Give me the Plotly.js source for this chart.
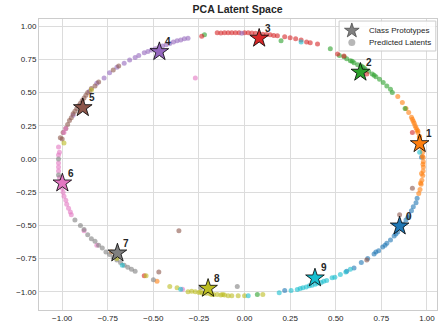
<!DOCTYPE html>
<html>
<head>
<meta charset="utf-8">
<script src="https://cdn.plot.ly/plotly-3.0.1.min.js"></script>
<style>html,body{margin:0;padding:0;background:#fff;}#chart{width:440px;height:326px;}</style>
</head>
<body>
<div id="chart"></div>
<script>
const classLabels = ['0','1','2','3','4','5','6','7','8','9'];
const classColors = ['#1f77b4','#ff7f0e','#2ca02c','#d62728','#9467bd','#8c564b','#e377c2','#7f7f7f','#bcbd22','#17becf'];
const legendNames = ['Class Prototypes', 'Predicted Latents'];

const protoX = [0.85, 0.96, 0.635, 0.08, -0.467, -0.887, -0.999, -0.697, -0.20, 0.386];
const protoY = [-0.505, 0.115, 0.653, 0.909, 0.808, 0.386, -0.181, -0.708, -0.974, -0.896];

// predicted latents per class: [x, y]
const latent0 = [[0.97,0.013],[0.946,-0.296],[0.94,-0.33],[0.925,-0.36],[0.915,-0.39],[0.90,-0.43],[0.885,-0.46],[0.87,-0.49],[0.855,-0.52],[0.84,-0.55],[0.82,-0.58],[0.80,-0.61],[0.78,-0.635],[0.757,-0.663],[0.735,-0.69],[0.71,-0.715],[0.675,-0.75],[0.64,-0.78],[0.60,-0.82],[0.56,-0.845],[0.22,-0.99],[0.895,-0.44],[0.83,-0.565],[0.865,-0.50],[0.77,-0.65],[0.72,-0.70]];
const latent1 = [[0.84,0.47],[0.865,0.425],[0.885,0.38],[0.90,0.35],[0.915,0.315],[0.92,0.30],[0.93,0.27],[0.935,0.25],[0.945,0.22],[0.95,0.20],[0.958,0.166],[0.96,0.15],[0.968,0.115],[0.972,0.08],[0.976,0.05],[0.979,0.012],[0.98,-0.02],[0.98,-0.06],[0.979,-0.09],[0.977,-0.125],[0.972,-0.16],[0.968,-0.19],[0.962,-0.23],[0.955,-0.26],[0.95,0.21],[0.96,0.17],[0.975,0.02],[0.97,-0.11],[0.965,-0.18],[0.94,0.235],[0.925,0.285],[0.978,-0.04],[-0.73,-0.70],[-0.48,-0.92]];
const latent2 = [[0.52,0.78],[0.545,0.77],[0.56,0.755],[0.58,0.74],[0.60,0.725],[0.62,0.71],[0.64,0.70],[0.66,0.68],[0.68,0.66],[0.70,0.64],[0.72,0.62],[0.74,0.60],[0.76,0.575],[0.78,0.55],[0.80,0.525],[0.81,0.50],[0.59,0.735],[0.65,0.69],[0.71,0.63],[0.2,0.89],[0.47,0.83],[0.88,0.38],[0.07,-1.02],[-0.22,0.935]];
const latent3 = [[-0.235,0.924],[-0.15,0.95],[-0.13,0.948],[-0.11,0.95],[-0.09,0.95],[-0.07,0.95],[-0.05,0.95],[-0.03,0.95],[0.0,0.95],[0.02,0.95],[0.04,0.948],[0.06,0.946],[0.10,0.94],[0.12,0.938],[0.14,0.935],[0.16,0.93],[0.18,0.928],[0.22,0.92],[0.25,0.912],[0.28,0.905],[0.31,0.895],[0.34,0.88],[0.36,0.875],[0.40,0.866],[0.51,0.79],[0.545,0.775],[0.67,0.64],[0.92,0.20],[-0.55,-0.88]];
const latent4 = [[-0.31,0.91],[-0.33,0.905],[-0.35,0.895],[-0.37,0.89],[-0.39,0.88],[-0.41,0.87],[-0.43,0.86],[-0.45,0.85],[-0.47,0.84],[-0.49,0.83],[-0.51,0.82],[-0.53,0.81],[-0.55,0.80],[-0.58,0.78],[-0.60,0.765],[-0.63,0.745],[-0.66,0.72],[-0.70,0.69],[-0.74,0.65],[-0.77,0.61],[-0.81,0.57],[-0.85,0.51],[-0.94,0.33],[-0.015,0.946]];
const latent5 = [[-1.01,0.16],[-0.995,0.2],[-0.98,0.23],[-0.97,0.26],[-0.96,0.29],[-0.95,0.31],[-0.94,0.34],[-0.93,0.36],[-0.92,0.38],[-0.91,0.40],[-0.90,0.42],[-0.89,0.44],[-0.88,0.46],[-0.87,0.48],[-0.86,0.50],[-0.84,0.53],[-0.82,0.55],[-0.80,0.58],[-0.72,0.67],[-0.69,0.70],[-1.0,0.15],[-0.36,-0.54],[-0.47,-0.85],[0.92,-0.22],[0.85,-0.42],[0.67,-0.76]];
const latent6 = [[-0.98,0.23],[-0.99,0.20],[-1.02,0.09],[-1.015,0.05],[-1.02,0.03],[-1.02,-0.03],[-1.02,-0.06],[-1.02,-0.09],[-1.015,-0.14],[-1.01,-0.17],[-1.0,-0.22],[-0.995,-0.25],[-0.99,-0.28],[-0.98,-0.31],[-0.975,-0.34],[-0.965,-0.37],[-0.955,-0.40],[-0.95,-0.42],[-0.88,-0.54],[-0.81,-0.65],[-0.27,0.61],[-0.34,-0.98]];
const latent7 = [[-1.02,0.0],[-1.02,-0.12],[-0.93,-0.46],[-0.90,-0.50],[-0.88,-0.53],[-0.86,-0.57],[-0.84,-0.60],[-0.82,-0.62],[-0.80,-0.65],[-0.78,-0.67],[-0.76,-0.70],[-0.74,-0.72],[-0.72,-0.74],[-0.70,-0.76],[-0.68,-0.78],[-0.66,-0.80],[-0.64,-0.815],[-0.62,-0.83],[-0.60,-0.845],[-0.24,-0.97],[-0.04,-0.96],[-0.50,-0.91]];
const latent8 = [[-0.54,-0.88],[-0.41,-0.96],[-0.37,-0.97],[-0.31,-1.0],[-0.29,-0.995],[-0.27,-1.0],[-0.25,-1.005],[-0.24,-1.0],[-0.23,-1.01],[-0.21,-1.01],[-0.19,-1.015],[-0.18,-1.02],[-0.17,-1.02],[-0.15,-1.02],[-0.13,-1.025],[-0.12,-1.02],[-0.11,-1.025],[-0.09,-1.03],[-0.07,-1.03],[-0.035,-1.03],[0.0,-1.03],[0.10,-1.02],[-0.84,0.52],[-0.99,0.12],[-0.70,-0.75]];
const latent9 = [[0.58,-0.83],[0.555,-0.85],[0.525,-0.87],[0.495,-0.89],[0.48,-0.895],[0.45,-0.915],[0.434,-0.92],[0.42,-0.93],[0.40,-0.935],[0.387,-0.944],[0.37,-0.95],[0.355,-0.955],[0.338,-0.964],[0.32,-0.97],[0.305,-0.975],[0.289,-0.982],[0.255,-0.99],[0.19,-1.008],[0.02,-1.03],[-0.35,-0.98],[-0.67,-0.80],[0.96,0.05],[0.31,0.88]];

const latents = [latent0, latent1, latent2, latent3, latent4, latent5, latent6, latent7, latent8, latent9];
const tickVals = [-1.0, -0.75, -0.5, -0.25, 0.0, 0.25, 0.5, 0.75, 1.0];

const font = 'Liberation Sans, Arial, sans-serif';
const traces = [];
latents.forEach((pts, i) => {
  traces.push({
    type: 'scatter', mode: 'markers', showlegend: false, hoverinfo: 'skip',
    x: pts.map(p => p[0]), y: pts.map(p => p[1]),
    marker: {color: classColors[i], size: 5, opacity: 0.6, line: {width: 0}}
  });
});
traces.push({
  type: 'scatter', mode: 'markers', showlegend: false,
  x: protoX, y: protoY,
  marker: {symbol: 'star', size: 14, color: classColors, line: {color: '#000', width: 0.8}}
});

// custom legend (box position in plot-area fractions, drawn on an overlay axis pair)
const legX0 = 0.754, legX1 = 0.997, legYTop = 0.993, legYBot = 0.890;
const legSymX = 0.786, legTextX = 0.823, legRowY = [0.960, 0.919];
traces.push({
  type: 'scatter', mode: 'lines', showlegend: false, xaxis: 'x2', yaxis: 'y2', hoverinfo: 'skip',
  x: [legX0, legX1, legX1, legX0, legX0], y: [legYBot, legYBot, legYTop, legYTop, legYBot],
  fill: 'toself', fillcolor: 'rgba(255,255,255,0.85)', line: {color: '#cccccc', width: 1}
});
traces.push({
  type: 'scatter', mode: 'markers', showlegend: false, xaxis: 'x2', yaxis: 'y2', hoverinfo: 'skip',
  x: [legSymX, legSymX], y: legRowY,
  marker: {symbol: ['star', 'circle'], size: [11, 7], color: ['#4d4d4d', '#999999'], line: {color: ['#000000', '#999999'], width: [0.8, 0]}}
});

const annotations = protoX.map((x, i) => ({
  x: x, y: protoY[i], text: '<b>' + classLabels[i] + '</b>', showarrow: false,
  xshift: 9, yshift: 10, font: {family: font, size: 10, color: '#262626'}
}));
legendNames.forEach((n, i) => annotations.push({
  xref: 'x domain', yref: 'y domain', x: legTextX, y: legRowY[i], xanchor: 'left', yanchor: 'middle',
  text: n, showarrow: false, font: {family: font, size: 8, color: '#262626'}
}));

const axisCommon = {
  tickvals: tickVals, tickformat: '.2f', showgrid: true, gridcolor: '#dcdcdc', gridwidth: 1,
  zeroline: false, showline: true, mirror: true, linecolor: '#cccccc', linewidth: 1,
  ticks: '', tickfont: {family: font, size: 8, color: '#262626'}
};

const layout = {
  width: 440, height: 326,
  margin: {l: 39, r: 3, t: 19, b: 16},
  paper_bgcolor: '#fff', plot_bgcolor: '#fff',
  title: {text: '<b>PCA Latent Space</b>', font: {family: font, size: 10.5, color: '#262626'}, x: 0.54, xanchor: 'center', y: 0.972, yanchor: 'middle'},
  xaxis: Object.assign({range: [-1.127, 1.055]}, axisCommon),
  yaxis: Object.assign({range: [-1.137, 1.054]}, axisCommon),
  xaxis2: {overlaying: 'x', range: [0, 1], visible: false, anchor: 'y2', fixedrange: true},
  yaxis2: {overlaying: 'y', range: [0, 1], visible: false, anchor: 'x2', fixedrange: true},
  annotations: annotations,
  showlegend: false
};

Plotly.newPlot('chart', traces, layout, {displayModeBar: false, staticPlot: true});
</script>
</body>
</html>
